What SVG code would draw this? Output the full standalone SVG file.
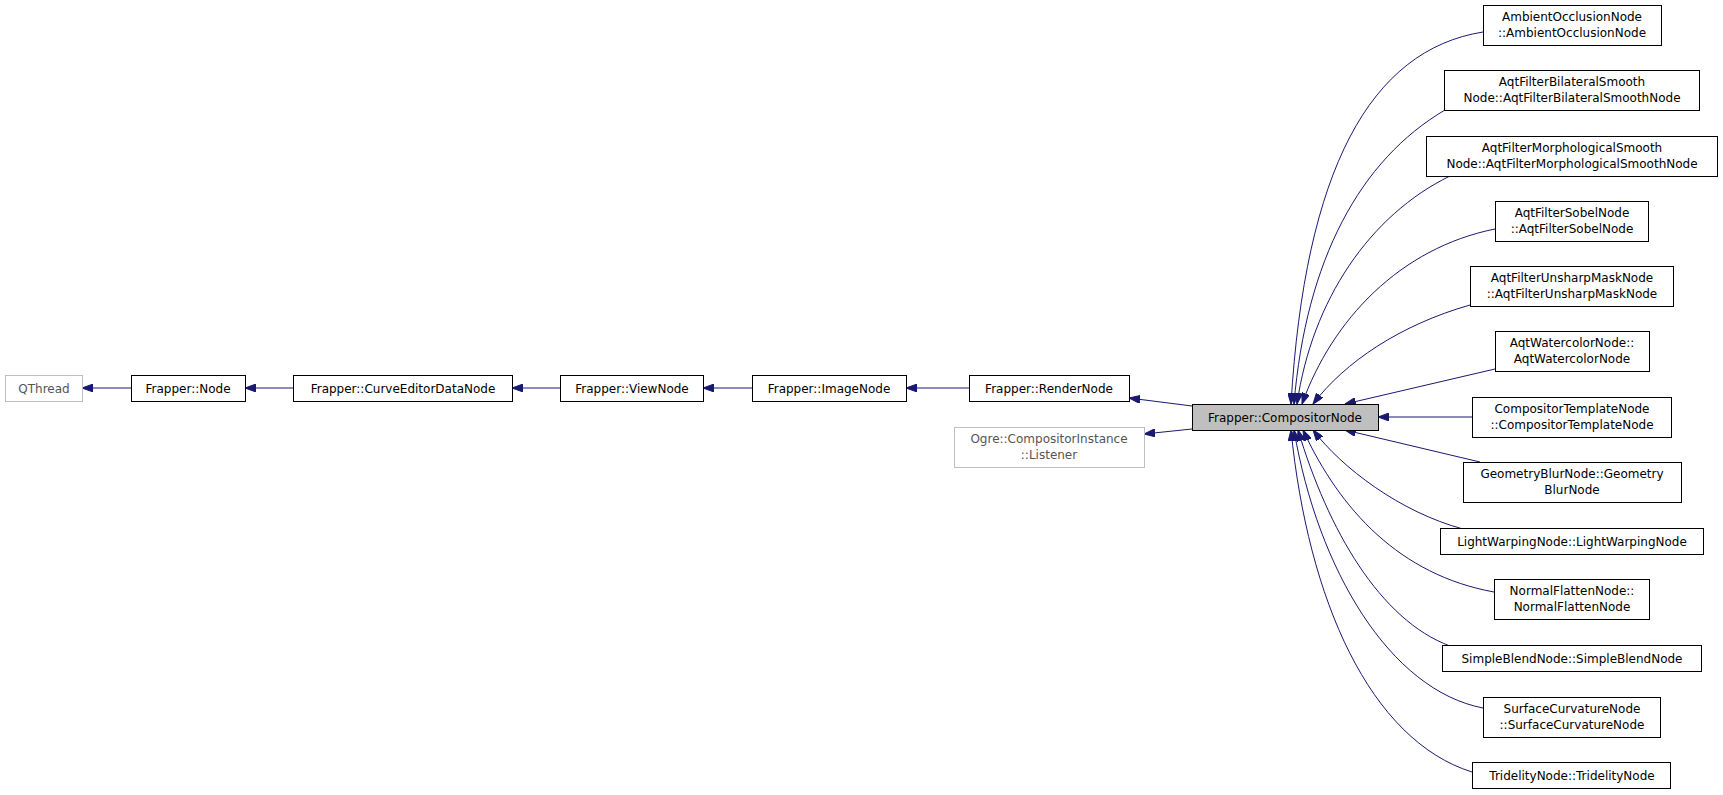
<svg xmlns="http://www.w3.org/2000/svg" width="1723" height="795" viewBox="0 0 1723 795">
<style>
text{font-family:"DejaVu Sans",sans-serif;font-size:12px;text-anchor:middle;fill:#000}
.n rect{fill:#fff;stroke:#000;stroke-width:1}
.g rect{fill:#fff;stroke:#bfbfbf;stroke-width:1}
.g text{fill:#555}
.c rect{fill:#bfbfbf;stroke:#000;stroke-width:1}
#edges path{fill:none;stroke:#191970;stroke-width:1;marker-end:url(#ah)}
</style>
<defs>
<marker id="ah" markerUnits="userSpaceOnUse" viewBox="0 0 11 8" refX="11" refY="4" markerWidth="11" markerHeight="8" orient="auto">
<polygon points="0,0 11,4 0,8" fill="#191970" stroke="#191970"/>
</marker>
</defs>
<rect width="1723" height="795" fill="#fff"/>
<g id="edges">
<path d="M131,388 L82,388"/>
<path d="M293,388 L245,388"/>
<path d="M560,388 L512,388"/>
<path d="M752,388 L703,388"/>
<path d="M969,388 L906,388"/>
<path d="M1192,406 L1129,398"/>
<path d="M1192,429 L1144,434"/>
<path d="M1483,32 C1370,50 1305,170 1291,404"/>
<path d="M1445,110 C1360,160 1306,260 1294,404"/>
<path d="M1450,176 C1370,215 1312,300 1297,404"/>
<path d="M1495,229 C1400,248 1332,320 1302,404"/>
<path d="M1470,305 C1400,325 1345,362 1313,404"/>
<path d="M1495,369 L1345,404"/>
<path d="M1472,417 L1378,417"/>
<path d="M1480,462 L1345,430"/>
<path d="M1463,529 C1400,512 1342,468 1313,430"/>
<path d="M1494,592 C1400,575 1340,510 1303,430"/>
<path d="M1450,646 C1380,620 1328,530 1298,430"/>
<path d="M1483,708 C1390,690 1318,570 1294,430"/>
<path d="M1472,772 C1370,740 1308,600 1291,430"/>
</g>
<g id="qthread" class="g"><rect x="5.5" y="375.5" width="77" height="26"/><text x="44" y="393">QThread</text></g>
<g id="node" class="n"><rect x="131.5" y="375.5" width="114" height="26"/><text x="188" y="393">Frapper::Node</text></g>
<g id="curveeditor" class="n"><rect x="293.5" y="375.5" width="219" height="26"/><text x="403" y="393">Frapper::CurveEditorDataNode</text></g>
<g id="viewnode" class="n"><rect x="560.5" y="375.5" width="143" height="26"/><text x="632" y="393">Frapper::ViewNode</text></g>
<g id="imagenode" class="n"><rect x="752.5" y="375.5" width="154" height="26"/><text x="829" y="393">Frapper::ImageNode</text></g>
<g id="rendernode" class="n"><rect x="969.5" y="375.5" width="160" height="26"/><text x="1049" y="393">Frapper::RenderNode</text></g>
<g id="listener" class="g"><rect x="954.5" y="427.5" width="190" height="40"/><text x="1049" y="443">Ogre::CompositorInstance</text><text x="1049" y="459">::Listener</text></g>
<g id="compositornode" class="c"><rect x="1192.5" y="404.5" width="186" height="26"/><text x="1285" y="422">Frapper::CompositorNode</text></g>
<g id="ambient" class="n"><rect x="1483.5" y="5.5" width="178" height="40"/><text x="1572" y="21">AmbientOcclusionNode</text><text x="1572" y="37">::AmbientOcclusionNode</text></g>
<g id="bilateral" class="n"><rect x="1444.5" y="70.5" width="255" height="40"/><text x="1572" y="86">AqtFilterBilateralSmooth</text><text x="1572" y="102">Node::AqtFilterBilateralSmoothNode</text></g>
<g id="morpho" class="n"><rect x="1426.5" y="136.5" width="291" height="40"/><text x="1572" y="152">AqtFilterMorphologicalSmooth</text><text x="1572" y="168">Node::AqtFilterMorphologicalSmoothNode</text></g>
<g id="sobel" class="n"><rect x="1495.5" y="201.5" width="153" height="40"/><text x="1572" y="217">AqtFilterSobelNode</text><text x="1572" y="233">::AqtFilterSobelNode</text></g>
<g id="unsharp" class="n"><rect x="1470.5" y="266.5" width="203" height="40"/><text x="1572" y="282">AqtFilterUnsharpMaskNode</text><text x="1572" y="298">::AqtFilterUnsharpMaskNode</text></g>
<g id="watercolor" class="n"><rect x="1495.5" y="331.5" width="154" height="40"/><text x="1572" y="347">AqtWatercolorNode::</text><text x="1572" y="363">AqtWatercolorNode</text></g>
<g id="comptemplate" class="n"><rect x="1472.5" y="397.5" width="199" height="40"/><text x="1572" y="413">CompositorTemplateNode</text><text x="1572" y="429">::CompositorTemplateNode</text></g>
<g id="geomblur" class="n"><rect x="1463.5" y="462.5" width="218" height="40"/><text x="1572" y="478">GeometryBlurNode::Geometry</text><text x="1572" y="494">BlurNode</text></g>
<g id="lightwarping" class="n"><rect x="1440.5" y="528.5" width="263" height="26"/><text x="1572" y="546">LightWarpingNode::LightWarpingNode</text></g>
<g id="normalflatten" class="n"><rect x="1494.5" y="579.5" width="155" height="40"/><text x="1572" y="595">NormalFlattenNode::</text><text x="1572" y="611">NormalFlattenNode</text></g>
<g id="simpleblend" class="n"><rect x="1442.5" y="645.5" width="259" height="26"/><text x="1572" y="663">SimpleBlendNode::SimpleBlendNode</text></g>
<g id="surface" class="n"><rect x="1483.5" y="697.5" width="177" height="40"/><text x="1572" y="713">SurfaceCurvatureNode</text><text x="1572" y="729">::SurfaceCurvatureNode</text></g>
<g id="tridelity" class="n"><rect x="1472.5" y="762.5" width="198" height="26"/><text x="1572" y="780">TridelityNode::TridelityNode</text></g>
</svg>
